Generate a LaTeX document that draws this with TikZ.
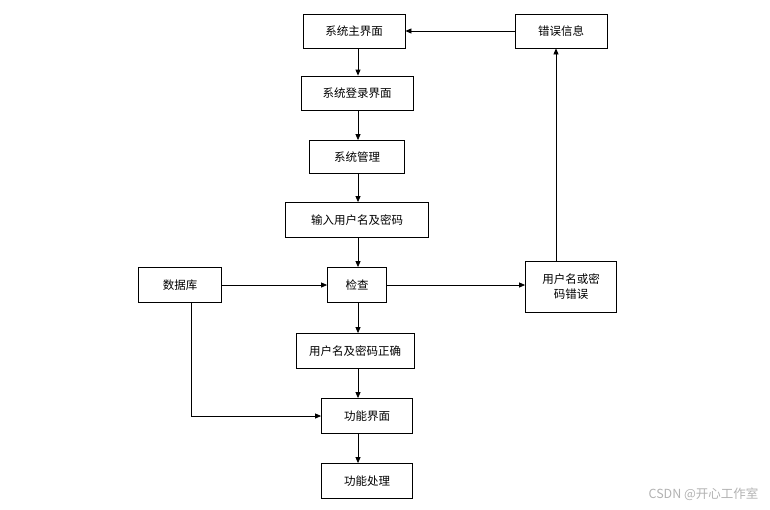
\documentclass[tikz,border=0pt]{standalone}
\usepackage{fontspec}
\newfontfamily\cjk{Noto Sans CJK SC}
\usetikzlibrary{arrows.meta,positioning}

\begin{document}
\begin{tikzpicture}[x=1pt, y=-1pt, >={Triangle[length=6pt,width=5pt]},
	box/.style={draw, line width=0.8pt, inner sep=0pt, align=center,
		font=\cjk\fontsize{11.5}{15}\selectfont}]
	\useasboundingbox (0,0) rectangle (770,509);

	\node	(zhu)		[box, minimum width=102pt, minimum height=34pt] at (354,31)	{系统主界面};
	\node	(xinxi)		[box, minimum width=92pt, minimum height=34pt]  at (561,31)	{错误信息};
	\node	(denglu)	[box, minimum width=112pt, minimum height=34pt] at (357,93)	{系统登录界面};
	\node	(guanli)	[box, minimum width=95pt, minimum height=33pt]  at (357,157)	{系统管理};
	\node	(shuru)		[box, minimum width=143pt, minimum height=35pt] at (357,220)	{输入用户名及密码};
	\node	(shujuku)	[box, minimum width=83pt, minimum height=35pt]  at (180,285)	{数据库};
	\node	(jiancha)	[box, minimum width=59pt, minimum height=35pt]  at (357,285)	{检查};
	\node	(cuowu)		[box, minimum width=91pt, minimum height=51pt]  at (571,287)	{用户名或密\\码错误};
	\node	(zhengque)	[box, minimum width=118pt, minimum height=35pt] at (355,351)	{用户名及密码正确};
	\node	(gongneng)	[box, minimum width=91pt, minimum height=35pt]  at (367,416)	{功能界面};
	\node	(chuli)		[box, minimum width=91pt, minimum height=35pt]  at (367,481)	{功能处理};

	\node	(csdn)	[font=\cjk\fontsize{12.5}{15}\selectfont, text=black!30, anchor=east] at (762,494) {CSDN @开心工作室};

	\coordinate (col) at (358,0);
	\coordinate (err) at (556,0);
	\coordinate (db)  at (191,0);

	\path [->, line width=0.8pt]
	(zhu.south -| col)	edge	(denglu.north -| col)
	(denglu.south -| col)	edge	(guanli.north -| col)
	(guanli.south -| col)	edge	(shuru.north -| col)
	(shuru.south -| col)	edge	(jiancha.north -| col)
	(jiancha.south -| col)	edge	(zhengque.north -| col)
	(zhengque.south -| col)	edge	(gongneng.north -| col)
	(gongneng.south -| col)	edge	(chuli.north -| col)
	(shujuku.east)		edge	(jiancha.west)
	(jiancha.east)		edge	(jiancha.east -| cuowu.west)
	(cuowu.north -| err)	edge	(xinxi.south -| err)
	(xinxi.west)		edge	(zhu.east)
	;
	\draw [->, line width=0.8pt] (shujuku.south -| db) |- (gongneng.west);

\end{tikzpicture}
\end{document}
